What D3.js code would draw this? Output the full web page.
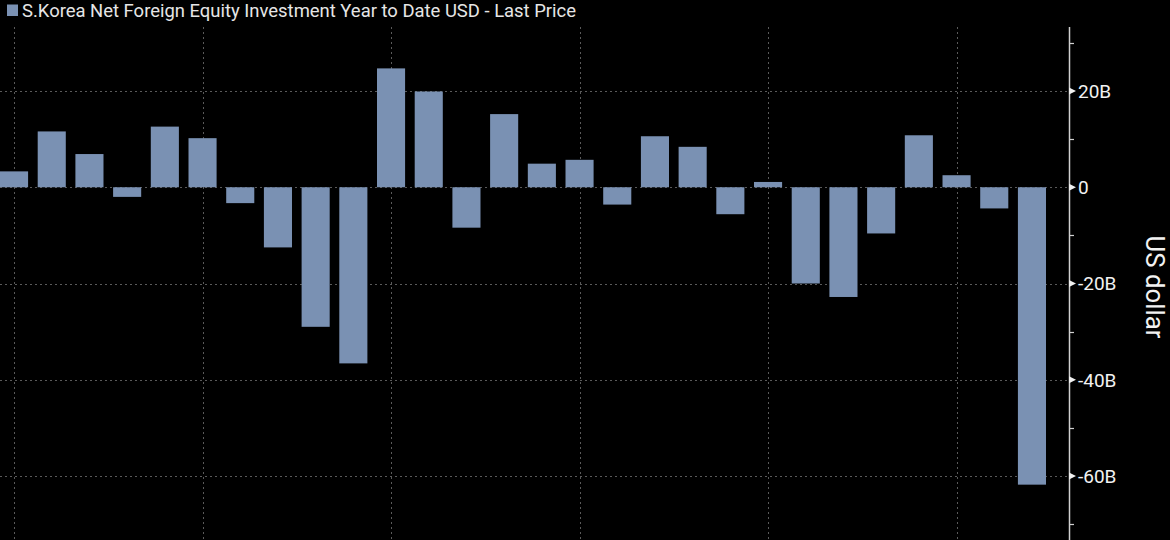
<!DOCTYPE html>
<html>
<head>
<meta charset="utf-8">
<script src="https://cdn.jsdelivr.net/npm/d3@7"></script>
<style>
  html, body { margin: 0; padding: 0; background: #000; }
  svg { display: block; }
</style>
</head>
<body>
<div id="chart"></div>
<script>
// S.Korea net foreign equity investment, year to date (USD bn)

const width = 1170,
  height = 540;

const years = [1998, 1999, 2000, 2001, 2002, 2003, 2004, 2005, 2006, 2007,
  2008, 2009, 2010, 2011, 2012, 2013, 2014, 2015, 2016, 2017,
  2018, 2019, 2020, 2021, 2022, 2023, 2024, 2025];
const values = [3.3, 11.6, 6.9, -2.0, 12.6, 10.2, -3.3, -12.5, -29.0, -36.6,
  24.7, 19.9, -8.4, 15.2, 4.9, 5.7, -3.6, 10.6, 8.4, -5.6,
  1.1, -20.0, -22.8, -9.6, 10.8, 2.5, -4.4, -61.8];
const majorTicks = [20, 0, -20, -40, -60];
const minorTicks = [30, 10, -10, -30, -50, -70];
const legendText = "S.Korea Net Foreign Equity Investment Year to Date USD - Last Price";

const axisX = 1069,
  plotTop = 27;

const svg = d3.select("#chart")
  .append("svg")
  .attr("width", width)
  .attr("height", height)
  .style("background", "#000");

const x = d3.scaleBand()
  .domain(years)
  .range([0, 1046])
  .paddingInner(0.255)
  .paddingOuter(0);

const y = d3.scaleLinear()
  .domain([-73.3, 33.3])
  .range([height, plotTop]);

const fmt = v => v === 0 ? "0" : `${v}B`;

// grid
const grid = svg.append("g")
  .attr("stroke", "#5a5a5a")
  .attr("stroke-width", 1)
  .attr("stroke-dasharray", "2,3");

grid.selectAll("line.h")
  .data(majorTicks)
  .join("line")
  .attr("class", "h")
  .attr("x1", 0)
  .attr("x2", axisX)
  .attr("y1", d => Math.round(y(d)) + 0.5)
  .attr("y2", d => Math.round(y(d)) + 0.5);

grid.selectAll("line.v")
  .data(years.filter((d, i) => i % 5 === 0))
  .join("line")
  .attr("class", "v")
  .attr("x1", d => Math.round(x(d) + x.bandwidth() / 2) + 0.5)
  .attr("x2", d => Math.round(x(d) + x.bandwidth() / 2) + 0.5)
  .attr("y1", plotTop)
  .attr("y2", height);

// bars
svg.append("g")
  .selectAll("rect")
  .data(years)
  .join("rect")
  .attr("x", d => x(d))
  .attr("width", x.bandwidth())
  .attr("y", (d, i) => y(Math.max(0, values[i])))
  .attr("height", (d, i) => Math.abs(y(values[i]) - y(0)))
  .attr("fill", "#7a91b3");

// right axis
const axis = svg.append("g");

axis.append("line")
  .attr("x1", axisX + 0.5)
  .attr("x2", axisX + 0.5)
  .attr("y1", plotTop)
  .attr("y2", height)
  .attr("stroke", "#d0d0d0")
  .attr("stroke-width", 1.5);

axis.selectAll("path.tri")
  .data(majorTicks)
  .join("path")
  .attr("class", "tri")
  .attr("d", d => `M${axisX},${y(d) - 3.5}L${axisX + 7},${y(d)}L${axisX},${y(d) + 3.5}Z`)
  .attr("fill", "#f0f0f0");

axis.selectAll("line.minor")
  .data(minorTicks)
  .join("line")
  .attr("class", "minor")
  .attr("x1", axisX)
  .attr("x2", axisX + 5)
  .attr("y1", d => Math.round(y(d)) + 0.5)
  .attr("y2", d => Math.round(y(d)) + 0.5)
  .attr("stroke", "#d0d0d0")
  .attr("stroke-width", 1.2);

axis.selectAll("text")
  .data(majorTicks)
  .join("text")
  .attr("x", axisX + 9)
  .attr("y", d => y(d))
  .attr("dy", "0.36em")
  .attr("fill", "#f2f2f2")
  .attr("font-family", "Roboto, 'Noto Sans', sans-serif")
  .attr("font-size", 19)
  .text(fmt);

svg.append("text")
  .attr("transform", `translate(1146, 287) rotate(90)`)
  .attr("text-anchor", "middle")
  .attr("fill", "#f2f2f2")
  .attr("font-family", "Roboto, 'Noto Sans', sans-serif")
  .attr("font-size", 25)
  .attr("textLength", 103)
  .attr("lengthAdjust", "spacingAndGlyphs")
  .text("US dollar");

// legend
svg.append("rect")
  .attr("x", 7)
  .attr("y", 4.5)
  .attr("width", 11)
  .attr("height", 11.5)
  .attr("fill", "#7a91b3");

svg.append("text")
  .attr("x", 22)
  .attr("y", 17)
  .attr("fill", "#e6e6e6")
  .attr("font-family", "Roboto, 'Noto Sans', sans-serif")
  .attr("font-size", 18)
  .attr("textLength", 554)
  .attr("lengthAdjust", "spacingAndGlyphs")
  .text(legendText);
</script>
</body>
</html>
